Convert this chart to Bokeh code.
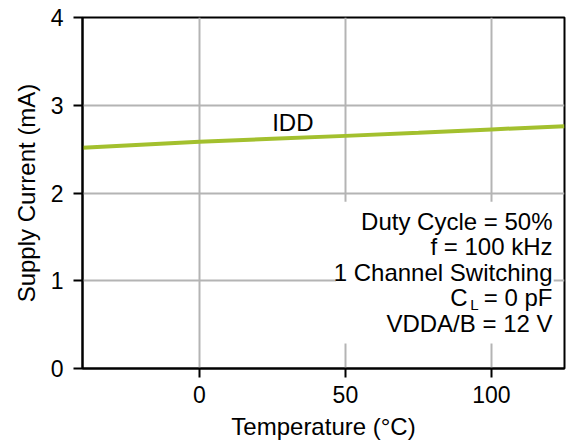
from bokeh.plotting import figure
from bokeh.models import Range1d, FixedTicker, Label
from bokeh.embed import file_html
from bokeh.resources import INLINE

# Data
temperature = [-40, -20, 0, 25, 50, 75, 100, 125]
idd_ma = [2.515, 2.55, 2.583, 2.617, 2.651, 2.686, 2.725, 2.762]
x_ticks = [0, 50, 100]
y_ticks = [0, 1, 2, 3, 4]
notes = ["Duty Cycle = 50%", "f = 100 kHz", "1 Channel Switching", "C_L = 0 pF", "VDDA/B = 12 V"]

FONT = "Liberation Sans"
FS_TICK = "23px"
FS = "24px"

p = figure(output_backend="svg", toolbar_location=None,
           frame_width=482, frame_height=351,
           min_border_left=82, min_border_right=5, min_border_top=17, min_border_bottom=79,
           x_range=Range1d(-40, 125), y_range=Range1d(0, 4),
           background_fill_color="white", border_fill_color="white")

p.outline_line_color = "black"
p.outline_line_width = 2

for ax in (p.xaxis[0], p.yaxis[0]):
    ax.axis_line_color = "black"
    ax.axis_line_width = 2
    ax.major_tick_line_color = "black"
    ax.major_tick_line_width = 2
    ax.major_tick_out = 9
    ax.major_tick_in = 0
    ax.minor_tick_out = 0
    ax.minor_tick_in = 0
    ax.major_label_text_font = FONT
    ax.major_label_text_font_size = FS_TICK
    ax.major_label_text_color = "black"
    ax.axis_label_text_font = FONT
    ax.axis_label_text_font_size = FS
    ax.axis_label_text_font_style = "normal"
    ax.axis_label_text_color = "black"

p.xaxis[0].ticker = FixedTicker(ticks=x_ticks)
p.yaxis[0].ticker = FixedTicker(ticks=y_ticks)
p.xaxis[0].axis_label = "Temperature (°C)"
p.yaxis[0].axis_label = "Supply Current (mA)"
p.xaxis[0].major_label_standoff = 8
p.xaxis[0].axis_label_standoff = 7
p.yaxis[0].major_label_standoff = 10
p.yaxis[0].axis_label_standoff = 8

for g in (p.xgrid[0], p.ygrid[0]):
    g.grid_line_color = "#b4b4b4"
    g.grid_line_width = 2
p.xgrid[0].ticker = FixedTicker(ticks=x_ticks)
p.ygrid[0].ticker = FixedTicker(ticks=[1, 2, 3])

# white box behind the condition notes
p.quad(left=[46.8], right=[121.3], bottom=[0.285], top=[1.9],
       fill_color="white", line_color=None)

p.line(temperature, idd_ma, line_color="#a3c02e", line_width=4)

p.add_layout(Label(x=32, y=2.80, text="IDD", text_font=FONT, text_font_size=FS,
                   text_align="center", text_baseline="alphabetic", text_color="black"))

nx = 120.9
ny0 = 1.675
dy = 0.29
for i, t in enumerate(notes):
    y = ny0 - i * dy
    if t.startswith("C_L"):
        rest = "= 0 pF"
        p.add_layout(Label(x=nx, y=y, text=rest, text_font=FONT, text_font_size=FS,
                           text_align="right", text_baseline="alphabetic", text_color="black"))
        p.add_layout(Label(x=nx, y=y, x_offset=-74, y_offset=-7, text="L", text_font=FONT,
                           text_font_size="15px", text_align="right", text_baseline="alphabetic",
                           text_color="black"))
        p.add_layout(Label(x=nx, y=y, x_offset=-85, text="C", text_font=FONT, text_font_size=FS,
                           text_align="right", text_baseline="alphabetic", text_color="black"))
    else:
        p.add_layout(Label(x=nx, y=y, text=t, text_font=FONT, text_font_size=FS,
                           text_align="right", text_baseline="alphabetic", text_color="black"))

open("out.html", "w").write(file_html(p, INLINE))
